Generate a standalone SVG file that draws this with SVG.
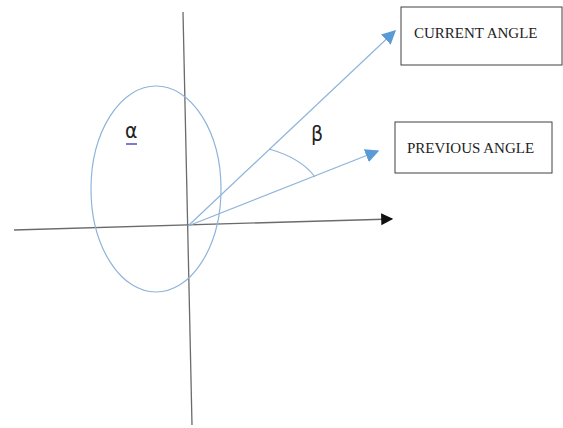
<svg xmlns="http://www.w3.org/2000/svg" width="563" height="428" viewBox="0 0 563 428">
<defs>
<style>
.axis{stroke:#6b6b6b;stroke-width:1.3;fill:none}
.ray{stroke:#8fb4da;stroke-width:1.2;fill:none}
.box{fill:#fff;stroke:#404040;stroke-width:1}
.lbl{font-family:"Liberation Serif",serif;font-size:15px;fill:#222}
.greek{font-family:"DejaVu Sans Condensed","DejaVu Sans",sans-serif;font-size:21px;fill:#222}
</style>
<marker id="blueHead" viewBox="0 0 10 10" refX="9" refY="5" markerWidth="14" markerHeight="14" markerUnits="userSpaceOnUse" orient="auto">
<path d="M0,0 L10,5 L0,10 z" fill="#5b9bd5"/>
</marker>
<marker id="blackHead" viewBox="0 0 10 10" refX="9" refY="5" markerWidth="12" markerHeight="14" markerUnits="userSpaceOnUse" orient="auto">
<path d="M0,0 L10,5 L0,10 z" fill="#111"/>
</marker>
</defs>
<rect width="563" height="428" fill="#fff"/>
<g id="connectors">
<line class="axis" x1="183" y1="12" x2="192" y2="425" stroke="#8a8a8a"/>
<line class="axis" x1="14" y1="230" x2="392" y2="219" marker-end="url(#blackHead)"/>
<ellipse class="ray" cx="156" cy="189" rx="65" ry="103" stroke-width="1"/>
<line class="ray" x1="188" y1="226" x2="395" y2="31" marker-end="url(#blueHead)"/>
<line class="ray" x1="188" y1="226" x2="378" y2="151" marker-end="url(#blueHead)"/>
<path class="ray" d="M269,149 Q301,158 315,177"/>
</g>
<g id="alpha">
<text class="greek" x="125" y="138">α</text>
<line x1="126" y1="144" x2="137" y2="144" stroke="#5050c8" stroke-width="1.5"/>
</g>
<g id="beta">
<text class="greek" x="311" y="141">β</text>
</g>
<g id="current-angle">
<rect class="box" x="401" y="7" width="161" height="58"/>
<text class="lbl" x="414" y="38">CURRENT ANGLE</text>
</g>
<g id="previous-angle">
<rect class="box" x="395" y="122" width="157" height="51"/>
<text class="lbl" x="407" y="153">PREVIOUS ANGLE</text>
</g>
</svg>
